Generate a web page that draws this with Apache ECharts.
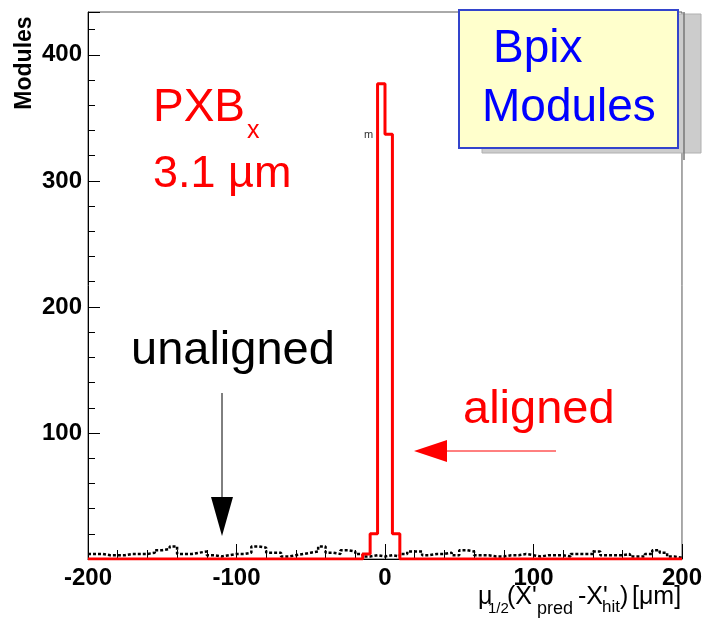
<!DOCTYPE html>
<html>
<head>
<meta charset="utf-8">
<script src="https://cdn.jsdelivr.net/npm/echarts@6/dist/echarts.min.js"></script>
<style>
  html, body { margin: 0; padding: 0; background: #fff; }
  #chart { width: 705px; height: 618px; }
</style>
</head>
<body>
<div id="chart"></div>
<script>
// histogram binning: 80 bins of 5 um from -200 to 200
const binStart = -200
const binWidth = 5

// unaligned modules (black dashed)
const unalignedCounts = [
  4, 4, 3, 3, 3, 4, 4, 4, 5, 7,
  8, 10, 4, 4, 5, 6, 3, 2, 3, 4,
  4, 5, 10, 9, 5, 5, 2, 3, 4, 5,
  6, 10, 5, 4, 7, 6, 4, 2, 3, 2,
  3, 2, 4, 6, 6, 3, 4, 4, 5, 3,
  7, 6, 3, 3, 2, 2, 3, 3, 4, 3,
  2, 3, 3, 3, 2, 4, 4, 4, 6, 3,
  3, 3, 4, 2, 2, 4, 7, 5, 2, 1,
]

// aligned modules (red)
const alignedCounts = [
  0, 0, 0, 0, 0, 0, 0, 0, 0, 0,
  0, 0, 0, 0, 0, 0, 0, 0, 0, 0,
  0, 0, 0, 0, 0, 0, 0, 0, 0, 0,
  0, 0, 0, 0, 0, 0, 0, 4, 20, 377,
  337, 20, 0, 0, 0, 0, 0, 0, 0, 0,
  0, 0, 0, 0, 0, 0, 0, 0, 0, 0,
  0, 0, 0, 0, 0, 0, 0, 0, 0, 0,
  0, 0, 0, 0, 0, 0, 0, 0, 0, 0,
]

const xTickLabels = [-200, -100, 0, 100, 200]
const yTickLabels = [100, 200, 300, 400]

const font = "'Liberation Sans', Arial, Helvetica, sans-serif"

function stepData(counts) {
  const pts = counts.map((c, i) => [binStart + i * binWidth, c])
  pts.push([binStart + counts.length * binWidth, counts[counts.length - 1]])
  return pts
}

const txt = (x, y, text, size, color, extra) => ({
  type: 'text', x: x, y: y, z: 100,
  style: Object.assign({
    text: text, fill: color, font: size + 'px ' + font,
    textAlign: 'left', textVerticalAlign: 'middle',
  }, extra || {}),
})

const option = {
  animation: false,
  backgroundColor: '#fff',
  grid: {
    left: 88, right: 21, top: 12, bottom: 59,
    show: true, borderColor: '#555', borderWidth: 1,
  },
  xAxis: {
    type: 'value', min: -200, max: 200, interval: 100,
    axisLine: { onZero: false, lineStyle: { color: '#000', width: 1 } },
    axisTick: { inside: true, length: 15, lineStyle: { color: '#000' } },
    minorTick: { show: true, splitNumber: 5, length: 9, lineStyle: { color: '#000' } },
    splitLine: { show: false },
    axisLabel: {
      fontSize: 24, fontWeight: 'bold', color: '#000', margin: 7, fontFamily: font,
      formatter: (v) => xTickLabels.includes(v) ? String(v) : '',
    },
  },
  yAxis: [
    {
      type: 'value', min: 0, max: 434, interval: 20,
      axisLine: { show: true, onZero: false, lineStyle: { color: '#000', width: 1 } },
      axisTick: { inside: true, length: 7, lineStyle: { color: '#000' } },
      splitLine: { show: false },
      axisLabel: {
        fontSize: 24, fontWeight: 'bold', color: '#000', margin: 6, fontFamily: font,
        formatter: (v) => yTickLabels.includes(v) ? String(v) : '',
      },
    },
    {
      type: 'value', min: 0, max: 434, interval: 100, position: 'left',
      axisLine: { show: false, onZero: false },
      axisTick: { inside: true, length: 12, lineStyle: { color: '#000' } },
      splitLine: { show: false },
      axisLabel: { show: false },
    },
  ],
  series: [
    {
      name: 'unaligned', type: 'line', step: 'end', symbol: 'none',
      data: stepData(unalignedCounts), z: 2,
      lineStyle: { color: '#000', width: 2.5, type: [3, 2] },
    },
    {
      name: 'aligned', type: 'line', step: 'end', symbol: 'none',
      data: stepData(alignedCounts), z: 3,
      lineStyle: { color: '#ff0000', width: 3 },
    },
  ],
  graphic: [
    // y title
    {
      type: 'text', x: 25, y: 63, rotation: Math.PI / 2, z: 100,
      style: { text: 'Modules', fill: '#000', font: 'bold 23px ' + font, textAlign: 'center', textVerticalAlign: 'middle' },
    },
    // x title pieces
    txt(478, 597, 'μ', 25, '#000'),
    txt(488, 609, '1/2', 15, '#000'),
    txt(507, 597, '(X\'', 25, '#000'),
    txt(537, 609, 'pred', 18, '#000'),
    txt(578, 597, '-X\'', 25, '#000'),
    txt(602, 607, 'hit', 17, '#000'),
    txt(620, 597, ')', 25, '#000'),
    txt(632, 597, '[μm]', 25, '#000'),
    // PXB label
    txt(153, 108, 'PXB', 46, '#ff0000'),
    txt(247, 131, 'x', 25, '#ff0000'),
    txt(153, 175, '3.1 µm', 45, '#ff0000'),
    // stray small m
    txt(364, 135, 'm', 11, '#333'),
    // unaligned arrow
    txt(131, 351, 'unaligned', 47, '#000'),
    { type: 'line', z: 100, shape: { x1: 222, y1: 393, x2: 222, y2: 500 }, style: { stroke: '#000', lineWidth: 1 } },
    { type: 'polygon', z: 100, shape: { points: [[211, 497], [233, 497], [222, 536]] }, style: { fill: '#000' } },
    // aligned arrow
    txt(463, 410, 'aligned', 47, '#ff0000'),
    { type: 'line', z: 100, shape: { x1: 556, y1: 451, x2: 440, y2: 451 }, style: { stroke: '#ff0000', lineWidth: 1 } },
    { type: 'polygon', z: 100, shape: { points: [[447, 440], [447, 462], [414, 451]] }, style: { fill: '#ff0000' } },
    // Bpix box
    { type: 'rect', z: 90, shape: { x: 482, y: 14, width: 219, height: 139 }, style: { fill: '#cccccc', stroke: '#b0b0b0', lineWidth: 1 } },
    { type: 'line', z: 91, shape: { x1: 684, y1: 12, x2: 684, y2: 160 }, style: { stroke: '#777', lineWidth: 1.5 } },
    { type: 'rect', z: 92, shape: { x: 459, y: 10, width: 219, height: 138 }, style: { fill: '#ffffcc', stroke: '#3344cc', lineWidth: 2 } },
    txt(493, 49, 'Bpix', 46, '#0000ff'),
    txt(482, 108, 'Modules', 46, '#0000ff'),
  ],
}

const chart = echarts.init(document.getElementById('chart'))
chart.setOption(option)
</script>
</body>
</html>
